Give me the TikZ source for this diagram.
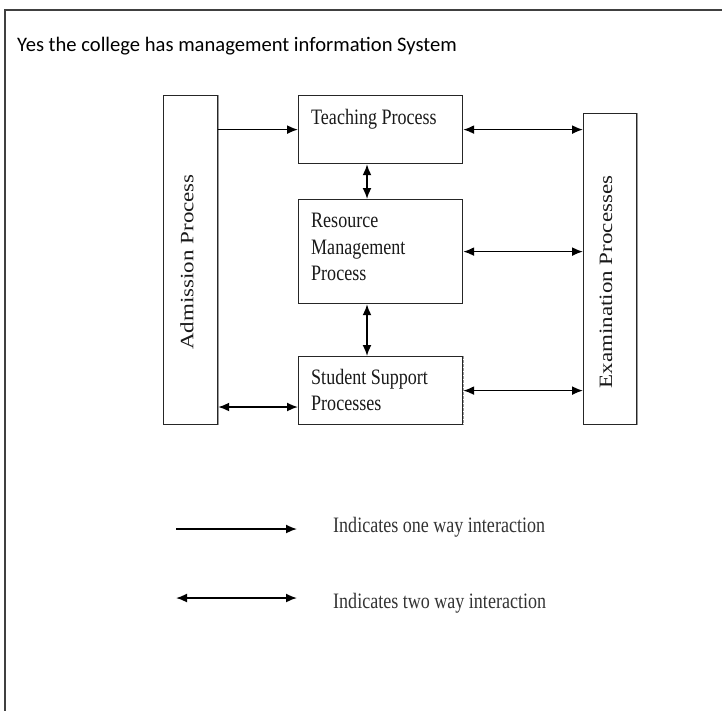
\documentclass[tikz,border=0pt]{standalone}
\usepackage{fontspec}
\usetikzlibrary{arrows.meta,calc}
\newfontfamily\titlefont{Carlito}
\newfontfamily\boxfont[FakeStretch=0.82]{Liberation Serif}
\newfontfamily\rotfont{Liberation Serif}
\begin{document}
\begin{tikzpicture}[x=1pt,y=-1pt,
  box/.style={draw=black!85,line width=1.2pt,inner sep=0pt,anchor=north west},
  lbl/.style={anchor=base west,inner sep=0pt,text=black!90,font=\boxfont\fontsize{22}{27}\selectfont},
  rot/.style={rotate=90,inner sep=0pt,text=black!90,font=\rotfont\fontsize{23}{27}\selectfont},
  leg/.style={anchor=base west,inner sep=0pt,text=black!80,font=\boxfont\fontsize{22}{27}\selectfont},
  tip/.tip={Latex[length=11pt,width=9pt]},
  one/.style={-tip,line width=1.7pt},
  two/.style={tip-tip,line width=1.7pt},
  faint/.style={draw=black!40,line width=1.2pt},
]
\useasboundingbox (0,0) rectangle (722,710);
\clip (0,0) rectangle (722,710);
% outer frame
\draw[line width=2pt,black!75] (5,720) -- (5,10) -- (730,10);
\node[anchor=base west,inner sep=0pt,font=\titlefont\fontsize{20.6}{24}\selectfont] (title) at (17,51) {Yes the college has management information System};
% boxes
\node[box,minimum width=54pt,minimum height=329pt] (adm) at (163,95) {};
\node[box,minimum width=164pt,minimum height=68pt] (teach) at (298,95) {};
\node[box,minimum width=164pt,minimum height=104pt] (res) at (298,199) {};
\node[box,minimum width=164pt,minimum height=68pt] (stud) at (298,356) {};
\node[box,minimum width=53pt,minimum height=311pt] (exam) at (583,113) {};
\draw[faint] (adm.north east) -- (adm.south east);
\draw[faint,dashed,dash pattern=on 3pt off 1pt] (stud.north east) -- (stud.south east);
\draw[faint] (exam.north east) -- (exam.south east);
% texts
\node[rot] (admt) at (187,262) {\scalebox{1}[0.82]{Admission Process}};
\node[rot] (examt) at (606,282) {\scalebox{1}[0.82]{Examination Processes}};
\node[lbl] (teacht) at (311,124) {Teaching Process};
\node[lbl] (rest1) at (311,227) {Resource};
\node[lbl] (rest2) at (311,254) {Management};
\node[lbl] (rest3) at (311,280) {Process};
\node[lbl] (studt1) at (311,384) {Student Support};
\node[lbl] (studt2) at (311,410) {Processes};
% connectors
\coordinate (vx) at (367,0);
\coordinate (ay) at (0,407);
\draw[one] (adm.east |- teach.west) -- (teach.west);
\draw[two] (teach.east) -- (teach.east -| exam.west);
\draw[two] (res.east) -- (res.east -| exam.west);
\draw[two] (stud.east) -- (stud.east -| exam.west);
\draw[two] (adm.east |- ay) -- (stud.west |- ay);
\draw[two] (vx |- teach.south) -- (vx |- res.north);
\draw[two] (vx |- res.south) -- (vx |- stud.north);
% legend
\coordinate (l1a) at (176,529);
\coordinate (l1b) at (297,529);
\coordinate (l2a) at (176,598);
\coordinate (l2b) at (297,598);
\draw[one] (l1a) -- (l1b);
\draw[two] (l2a) -- (l2b);
\node[leg] (leg1) at (333,532) {Indicates one way interaction};
\node[leg] (leg2) at (333,608) {Indicates two way interaction};
\end{tikzpicture}
\end{document}
